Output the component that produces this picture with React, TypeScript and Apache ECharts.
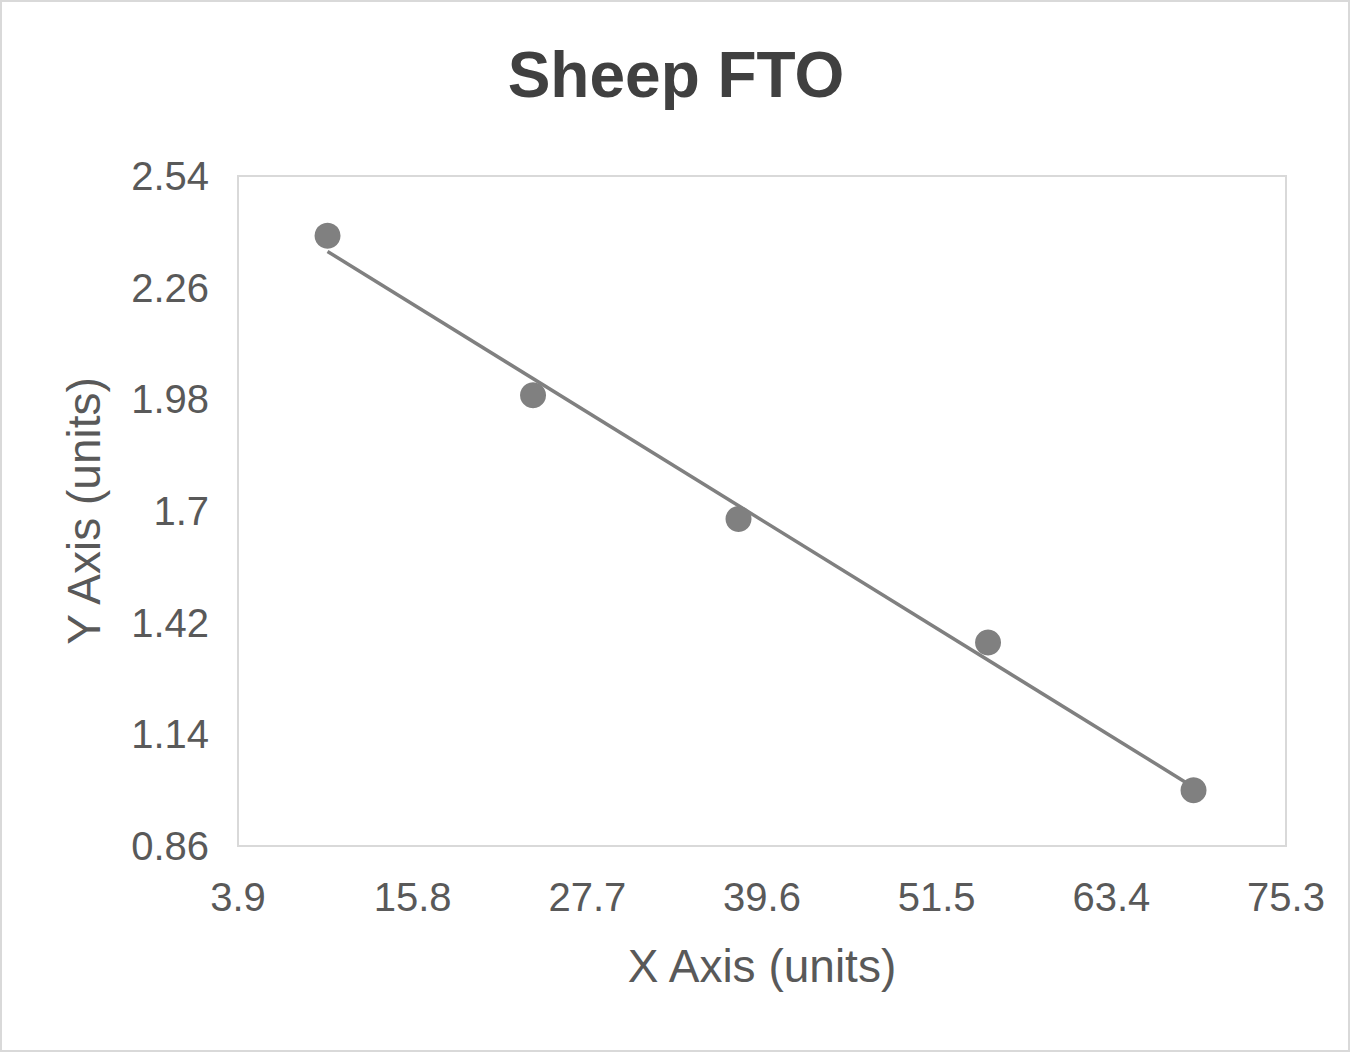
import React, { useEffect, useRef } from 'react';
import * as echarts from 'echarts';

const chartTitle = 'Sheep FTO';
const xAxisTitle = 'X Axis (units)';
const yAxisTitle = 'Y Axis (units)';

// points
const xValues = [10, 24, 38, 55, 69];
const yValues = [2.39, 1.99, 1.68, 1.37, 1.0];

// axis ranges as shown on the chart
const xRange = [3.9, 75.3];
const xStep = 11.9;
const yRange = [0.86, 2.54];
const yStep = 0.28;

const FONT = '"Liberation Sans", Arial, sans-serif';

// least squares line through the points (the trendline)
const fitLine = (xs: number[], ys: number[]) => {
    const n = xs.length;
    const mx = xs.reduce((a, b) => a + b, 0) / n;
    const my = ys.reduce((a, b) => a + b, 0) / n;
    let sxy = 0;
    let sxx = 0;
    xs.forEach((x, i) => {
        sxy += (x - mx) * (ys[i] - my);
        sxx += (x - mx) * (x - mx);
    });
    const slope = sxy / sxx;
    const x0 = Math.min(...xs);
    const x1 = Math.max(...xs);
    return [
        [x0, my + slope * (x0 - mx)],
        [x1, my + slope * (x1 - mx)],
    ];
};

const App = () => {
    const chartRef = useRef<HTMLDivElement>(null);

    useEffect(() => {
        document.body.style.margin = '0';
        if (!chartRef.current) return;

        const chart = echarts.init(chartRef.current, null, { renderer: 'svg' });

        const option = {
            animation: false,
            backgroundColor: '#ffffff',
            title: {
                text: chartTitle,
                left: 'center',
                top: 38,
                textStyle: {
                    fontFamily: FONT,
                    fontSize: 64,
                    fontWeight: 'bold',
                    color: '#404040',
                },
            },
            graphic: [
                {
                    type: 'rect',
                    shape: { x: 1, y: 1, width: 1348, height: 1050 },
                    style: { fill: 'none', stroke: '#d9d9d9', lineWidth: 2 },
                    silent: true,
                },
            ],
            grid: {
                left: 238,
                right: 66,
                top: 176,
                bottom: 209,
                show: true,
                borderColor: '#d9d9d9',
                borderWidth: 2,
            },
            xAxis: {
                type: 'value',
                min: xRange[0],
                max: xRange[1],
                interval: xStep,
                name: xAxisTitle,
                nameLocation: 'middle',
                nameGap: 97,
                nameTextStyle: { fontFamily: FONT, fontSize: 46, color: '#595959' },
                axisLine: { show: false },
                axisTick: { show: false },
                splitLine: { show: false },
                axisLabel: {
                    margin: 31,
                    fontFamily: FONT,
                    fontSize: 40,
                    color: '#595959',
                    formatter: (v: number) => String(+v.toFixed(1)),
                },
            },
            yAxis: {
                type: 'value',
                min: yRange[0],
                max: yRange[1],
                interval: yStep,
                name: yAxisTitle,
                nameLocation: 'middle',
                nameGap: 131,
                nameTextStyle: { fontFamily: FONT, fontSize: 46, color: '#595959' },
                axisLine: { show: false },
                axisTick: { show: false },
                splitLine: { show: false },
                axisLabel: {
                    margin: 29,
                    fontFamily: FONT,
                    fontSize: 40,
                    color: '#595959',
                    formatter: (v: number) => String(+v.toFixed(2)),
                },
            },
            series: [
                {
                    name: 'Trend',
                    type: 'line',
                    data: fitLine(xValues, yValues),
                    showSymbol: false,
                    lineStyle: { color: '#808080', width: 3.5 },
                    z: 2,
                },
                {
                    name: 'Data',
                    type: 'scatter',
                    data: xValues.map((x, i) => [x, yValues[i]]),
                    symbolSize: 26,
                    itemStyle: { color: '#808080', opacity: 1 },
                    z: 3,
                },
            ],
        };

        chart.setOption(option);

        const handleResize = () => chart.resize();
        window.addEventListener('resize', handleResize);
        return () => {
            chart.dispose();
            window.removeEventListener('resize', handleResize);
        };
    }, []);

    return <div ref={chartRef} style={{ width: '1352px', height: '1055px' }} />;
};

export default App;
